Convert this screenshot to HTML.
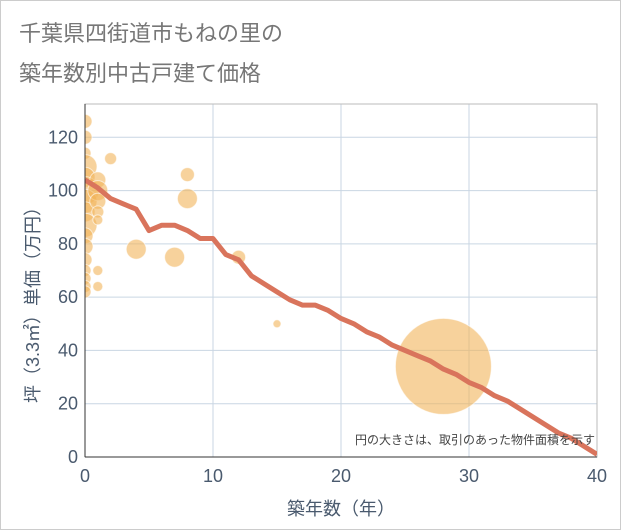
<!DOCTYPE html>
<html><head><meta charset="utf-8"><style>
body{margin:0;background:#fff;font-family:"Liberation Sans","Noto Sans CJK JP",sans-serif}
#wrap{position:relative;width:619px;height:528px;border:1px solid #ccc;overflow:hidden}
</style></head><body>
<div id="wrap">
<svg id="chart" width="621" height="530" style="font-family:'Liberation Sans','Noto Sans CJK JP',sans-serif">
<defs><clipPath id="pc"><rect x="84" y="103" width="512" height="353"/></clipPath></defs>
<text x="18" y="40" font-size="22" fill="#777">千葉県四街道市もねの里の</text>
<text x="18" y="80" font-size="22" fill="#777">築年数別中古戸建て価格</text>
<g id="plot" clip-path="url(#pc)"></g>
</svg>
</div>
<script>
const xTicks=[0,10,20,30,40];
const yTicks=[0,20,40,60,80,100,120];
const lineYears=[0,1,2,3,4,5,6,7,8,9,10,11,12,13,14,15,16,17,18,19,20,21,22,23,24,25,26,27,28,29,30,31,32,33,34,35,36,37,38,39,40];
const linePrices=[104,101,97,95,93,85,87,87,85,82,82,76,74,68,65,62,59,57,57,55,52,50,47,45,42,40,38,36,33,31,28,26,23,21,18,15,12,9,7,4,1];
const bubbleYears=[0,0,0,0,0,0,0,0,0,0,0,0,0,0,0,0,1,1,1,1,1,1,1,2,4,7,8,8,12,15,28];
const bubblePrices=[126,120,114,109,105,100,96,92,87,83,79,74,70,67,64,62,104,100,96,92,70,64,89,112,78,75,106,97,75,50,34];
const bubbleSizes=[7,7,6,12,10,14,12,10,12,8,8,7,6,6,6,6,8,10,8,6,5,5,5,6,10,10,7,10,7,4,48];
const NS='http://www.w3.org/2000/svg';
const svg=document.getElementById('chart');
const plot=document.getElementById('plot');
const L=84,R=596,T=103,B=456;
const xs=v=>L+(v-0)/(40-0)*(R-L);
const ys=v=>B-(v-0)/(132.5-0)*(B-T);
function mk(t,a,p){const e=document.createElementNS(NS,t);for(const k in a)e.setAttribute(k,a[k]);(p||svg).appendChild(e);return e;}
xTicks.forEach(t=>{
  if(t>0){const g=mk('line',{x1:xs(t),x2:xs(t),y1:T,y2:B,stroke:'#c9d6e3','stroke-width':1});
  
  }
  const l=mk('text',{x:xs(t),y:B+25,'text-anchor':'middle','font-size':18,fill:'#4a5a6e'});
  l.textContent=t;
  
  
});
yTicks.forEach(t=>{
  if(t>0){const g=mk('line',{x1:L,x2:R,y1:ys(t),y2:ys(t),stroke:'#c9d6e3','stroke-width':1});
  
  }
  const l=mk('text',{x:L-7,y:ys(t)+6,'text-anchor':'end','font-size':18,fill:'#4a5a6e'});
  l.textContent=t;
  
  
});
const fr=mk('rect',{x:L,y:T,width:R-L,height:B-T,fill:'none',stroke:'#bbb','stroke-width':1});


svg.appendChild(plot);
bubbleYears.forEach((yr,i)=>{
  const c=mk('circle',{cx:xs(yr),cy:ys(bubblePrices[i]),r:bubbleSizes[i],fill:'rgba(242,180,90,0.6)',stroke:'rgba(255,255,255,0.6)','stroke-width':1},plot);
  
  
});
const pts=lineYears.map((y,i)=>xs(y)+','+ys(linePrices[i])).join(' ');
const pl=mk('polyline',{points:pts,fill:'none',stroke:'#d9745c','stroke-width':5,'stroke-linejoin':'round'},plot);


const ax=mk('line',{x1:L,x2:R,y1:B,y2:B,stroke:'#333','stroke-width':1});


const ay=mk('line',{x1:L,x2:L,y1:T,y2:B,stroke:'#333','stroke-width':1});


const note=mk('text',{x:R-2,y:443,'text-anchor':'end','font-size':12,fill:'#444'});
note.textContent='円の大きさは、取引のあった物件面積を示す';


const xt=mk('text',{x:(L+R)/2,y:514,'text-anchor':'middle','font-size':18,fill:'#4a5a6e'});
xt.textContent='築年数（年）';


const yt=mk('text',{x:0,y:0,'text-anchor':'middle','font-size':18,fill:'#4a5a6e',transform:'translate(38,'+((T+B)/2+20)+') rotate(-90)'});
yt.textContent='坪（3.3㎡）単価（万円）';


</script>
</body></html>
